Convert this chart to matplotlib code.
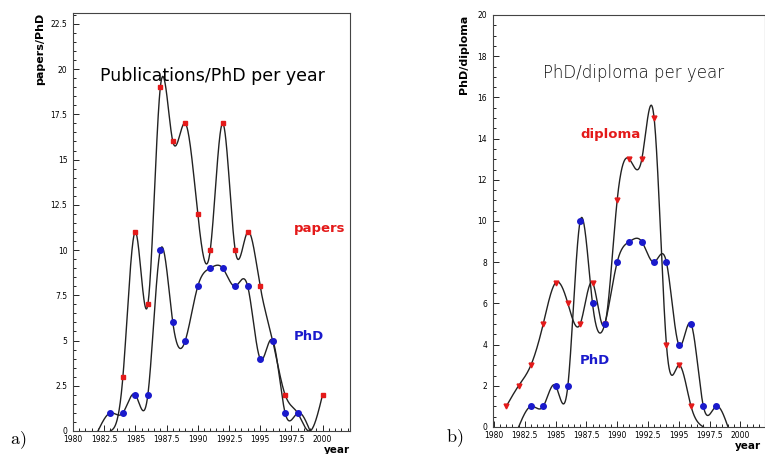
import numpy as np
import matplotlib.pyplot as plt
from matplotlib.ticker import MultipleLocator

# a) papers / PhD per year
years_pap = [1983, 1984, 1985, 1986, 1987, 1988, 1989, 1990, 1991, 1992,
             1993, 1994, 1995, 1996, 1997, 1998, 1999, 2000]
papers = [0, 3, 11, 7, 19, 16, 17, 12, 10, 17, 10, 11, 8, 5, 2, 1, 0, 2]

years_phd = [1982, 1983, 1984, 1985, 1986, 1987, 1988, 1989, 1990, 1991,
             1992, 1993, 1994, 1995, 1996, 1997, 1998, 1999]
phd = [0, 1, 1, 2, 2, 10, 6, 5, 8, 9, 9, 8, 8, 4, 5, 1, 1, 0]

# b) PhD / diploma per year
years_dip = [1981, 1982, 1983, 1984, 1985, 1986, 1987, 1988, 1989, 1990,
             1991, 1992, 1993, 1994, 1995, 1996, 1997]
diploma = [1, 2, 3, 5, 7, 6, 5, 7, 5, 11, 13, 13, 15, 4, 3, 1, 0]


def smooth(x, y, n=800):
    # natural cubic spline through the points
    t = np.asarray(x, float)
    v = np.asarray(y, float)
    m = len(t)
    h = np.diff(t)
    A = np.zeros((m, m))
    b = np.zeros(m)
    A[0, 0] = A[-1, -1] = 1
    for i in range(1, m - 1):
        A[i, i - 1] = h[i - 1]
        A[i, i] = 2 * (h[i - 1] + h[i])
        A[i, i + 1] = h[i]
        b[i] = 6 * ((v[i + 1] - v[i]) / h[i] - (v[i] - v[i - 1]) / h[i - 1])
    M = np.linalg.solve(A, b)
    tt = np.linspace(t[0], t[-1], n)
    k = np.clip(np.searchsorted(t, tt) - 1, 0, m - 2)
    d = h[k]
    a = (t[k + 1] - tt) / d
    c = (tt - t[k]) / d
    yy = (a * v[k] + c * v[k + 1]
          + ((a ** 3 - a) * M[k] + (c ** 3 - c) * M[k + 1]) * d * d / 6)
    return tt, yy


def markers(ax, x, y, **kw):
    x = np.asarray(x)
    y = np.asarray(y)
    m = y > 0
    ax.plot(x[m], y[m], ls='none', zorder=3, **kw)


def style(ax, ymaj, ymin):
    ax.xaxis.set_major_locator(MultipleLocator(2.5))
    ax.xaxis.set_minor_locator(MultipleLocator(0.5))
    ax.yaxis.set_major_locator(MultipleLocator(ymaj))
    ax.yaxis.set_minor_locator(MultipleLocator(ymin))
    ax.tick_params(which='both', direction='in', labelsize=5.5,
                   width=0.6, colors='black')
    ax.tick_params(axis='x', pad=3)
    ax.tick_params(axis='y', pad=4)
    ax.tick_params(which='major', length=4)
    ax.tick_params(which='minor', length=2)
    ax.xaxis.set_major_formatter(plt.FuncFormatter(lambda v, p: f'{v:g}'))
    ax.yaxis.set_major_formatter(plt.FuncFormatter(lambda v, p: f'{v:g}'))
    for s in ax.spines.values():
        s.set_linewidth(0.8)
        s.set_color('#444444')


plt.rcParams['mathtext.fontset'] = 'cm'
fig = plt.figure(figsize=(7.65, 4.54), dpi=100)

# ---- panel a
ax1 = fig.add_axes([73 / 765, 1 - 431 / 454, 277 / 765, 418 / 454])
ax1.set_xlim(1980, 2002.2)
ax1.set_ylim(0, 23.1)
style(ax1, 2.5, 0.5)
xs, ys = smooth(years_pap, papers)
ax1.plot(xs, np.clip(ys, 0, None), color='#222222', lw=1.0)
xs, ys = smooth(years_phd, phd)
ax1.plot(xs, np.clip(ys, 0, None), color='#222222', lw=1.0)
markers(ax1, years_pap, papers, marker='s', ms=3.5, color='#e41a1a')
markers(ax1, years_phd, phd, marker='o', ms=4, color='#1a1acc')
ax1.text(1991.2, 19.6, 'Publications/PhD per year', ha='center',
         va='center', fontsize=12.5)
ax1.text(1997.7, 11.2, 'papers', color='#e41a1a', fontsize=9.5,
         fontweight='bold', va='center')
ax1.text(1997.7, 5.2, 'PhD', color='#1a1acc', fontsize=9.5,
         fontweight='bold', va='center')
ax1.set_ylabel('papers/PhD', fontsize=8, fontweight='bold', loc='top',
               labelpad=4)
fig.text(337 / 765, 1 - 450 / 454, 'year', fontsize=7.5, fontweight='bold',
         ha='center', va='center')
fig.text(10 / 765, 1 - 440 / 454, r'$\mathrm{a)}$', fontsize=13,
         ha='left', va='center')

# ---- panel b
ax2 = fig.add_axes([492.7 / 765, 1 - 427 / 454, 272.3 / 765, 412 / 454])
ax2.set_xlim(1979.9, 2002.0)
ax2.set_ylim(0, 20)
style(ax2, 2, 0.5)
xs, ys = smooth(years_dip, diploma)
ax2.plot(xs, np.clip(ys, 0, None), color='#222222', lw=1.0)
xs, ys = smooth(years_phd, phd)
ax2.plot(xs, np.clip(ys, 0, None), color='#222222', lw=1.0)
markers(ax2, years_dip, diploma, marker='v', ms=3.5, color='#e41a1a')
markers(ax2, years_phd, phd, marker='o', ms=4, color='#1a1acc')
ax2.text(1991.3, 17.2, 'PhD/diploma per year', ha='center', va='center',
         fontsize=12, fontweight='light', color='#111111')
ax2.text(1987.0, 14.2, 'diploma', color='#e41a1a', fontsize=9.5,
         fontweight='bold', va='center')
ax2.text(1987.0, 3.25, 'PhD', color='#1a1acc', fontsize=9.5,
         fontweight='bold', va='center')
ax2.set_ylabel('PhD/diploma', fontsize=8, fontweight='bold', loc='top',
               labelpad=6)
fig.text(748 / 765, 1 - 446 / 454, 'year', fontsize=7.5, fontweight='bold',
         ha='center', va='center')
fig.text(446 / 765, 1 - 438 / 454, r'$\mathrm{b)}$', fontsize=13,
         ha='left', va='center')

fig.savefig('out.png', dpi=100)
